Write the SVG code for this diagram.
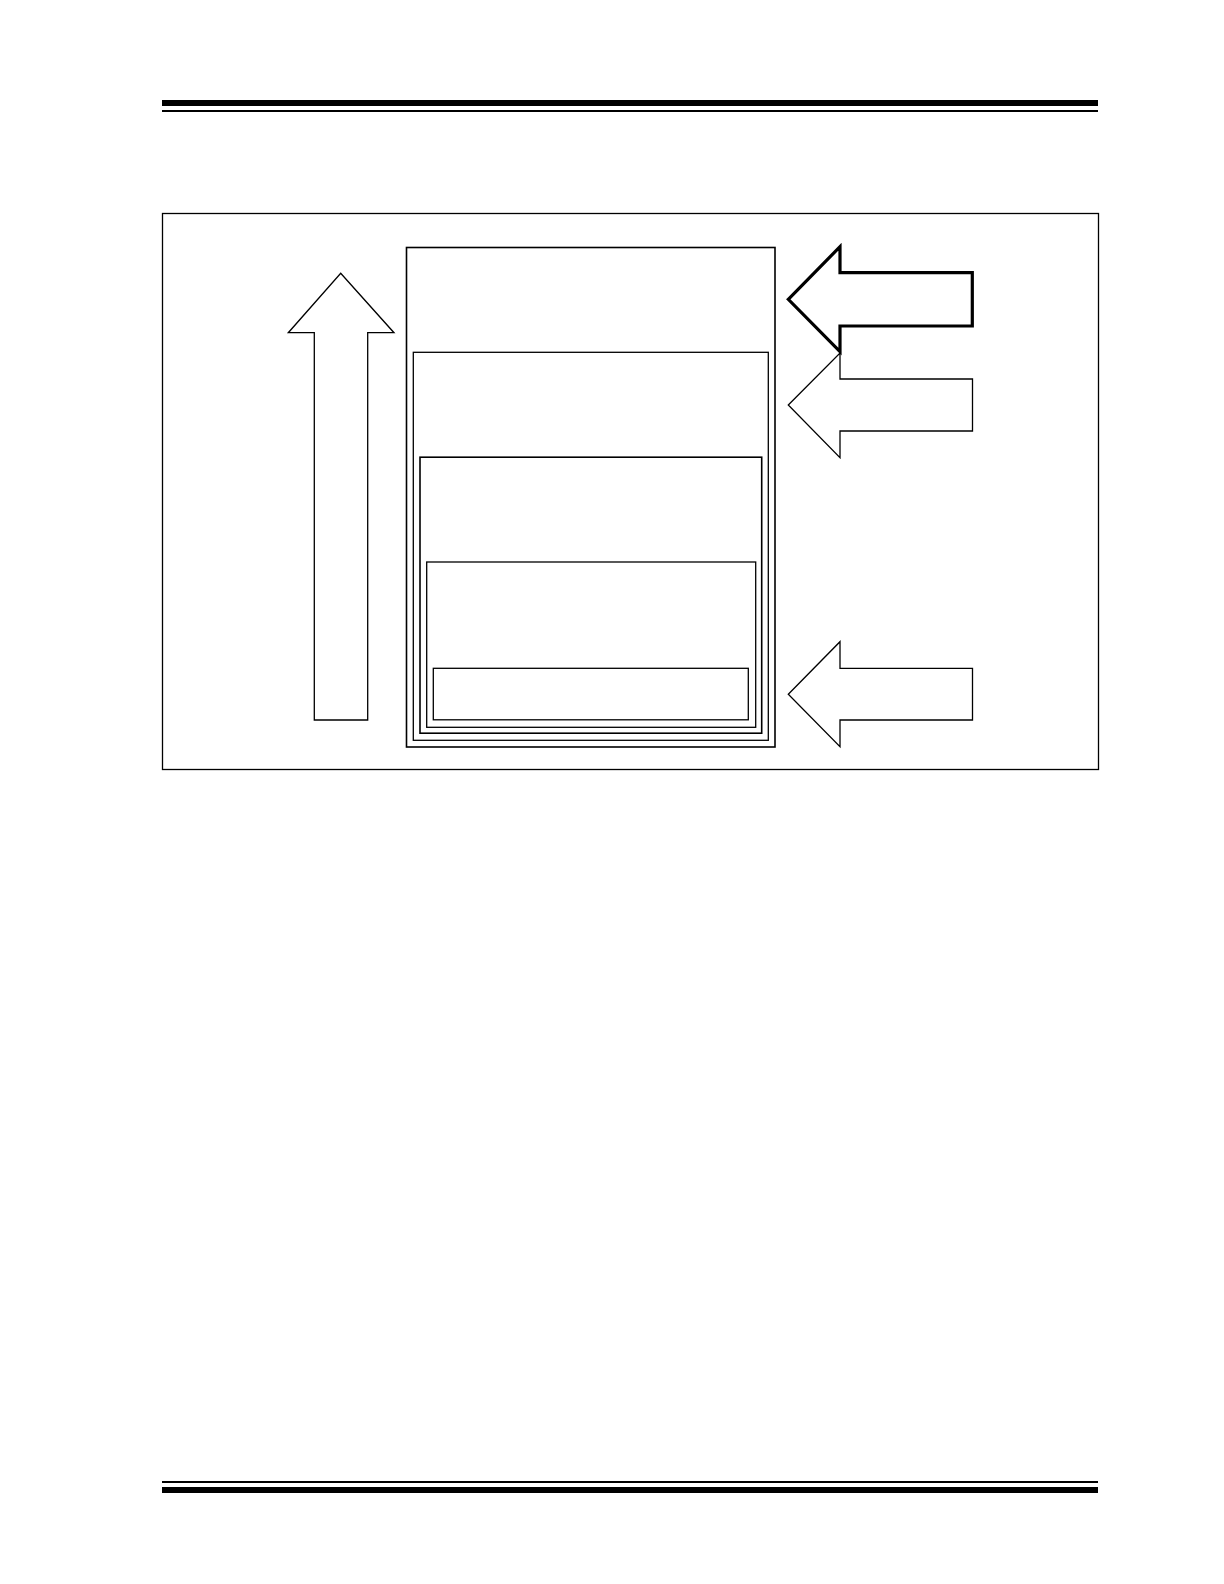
<svg xmlns="http://www.w3.org/2000/svg" width="1224" height="1584" viewBox="0 0 1224 1584">
<style>
.box{fill:none;stroke:#000;stroke-width:1.3}
.arr{fill:#fff;stroke:#000;stroke-width:1.3;stroke-linejoin:miter}
.thick{stroke-width:3.2}
.bar{fill:#000}
</style>
<rect width="1224" height="1584" fill="#fff"/>
<g id="header">
<rect class="bar" x="162" y="100" width="936" height="6"/>
<rect class="bar" x="162" y="110" width="936" height="2"/>
</g>
<g id="footer">
<rect class="bar" x="162" y="1481" width="936" height="2"/>
<rect class="bar" x="162" y="1487" width="936" height="6"/>
</g>
<g id="frame">
<rect class="box" x="162.5" y="213.5" width="936" height="556"/>
</g>
<g id="box1"><rect class="box" x="406.5" y="247.5" width="368.5" height="499.5" style="stroke-width:1.6"/></g>
<g id="box2"><rect class="box" x="413.3" y="352.3" width="355" height="388"/></g>
<g id="box3"><rect class="box" x="420" y="457.2" width="341.7" height="276" style="stroke-width:1.6"/></g>
<g id="box4"><rect class="box" x="426.7" y="562" width="329" height="165.3"/></g>
<g id="box5"><rect class="box" x="433.3" y="668.3" width="315" height="51.5"/></g>
<g id="connectors">
<polygon id="up-arrow" class="arr" points="340.7,273.3 394,332.7 367.7,332.7 367.7,720 314.3,720 314.3,332.7 288.3,332.7"/>
<polygon id="arrow2" class="arr" points="788.3,405 840,353 840,379 972.5,379 972.5,431 840,431 840,457.7"/>
<polygon id="arrow3" class="arr" points="788.3,694.3 840,641.7 840,668.3 972.5,668.3 972.5,720 840,720 840,746.7"/>
<polygon id="arrow1" class="arr thick" points="788.3,299.3 840,246.7 840,272.7 972.3,272.7 972.3,326 840,326 840,351.7"/>
</g>
</svg>
